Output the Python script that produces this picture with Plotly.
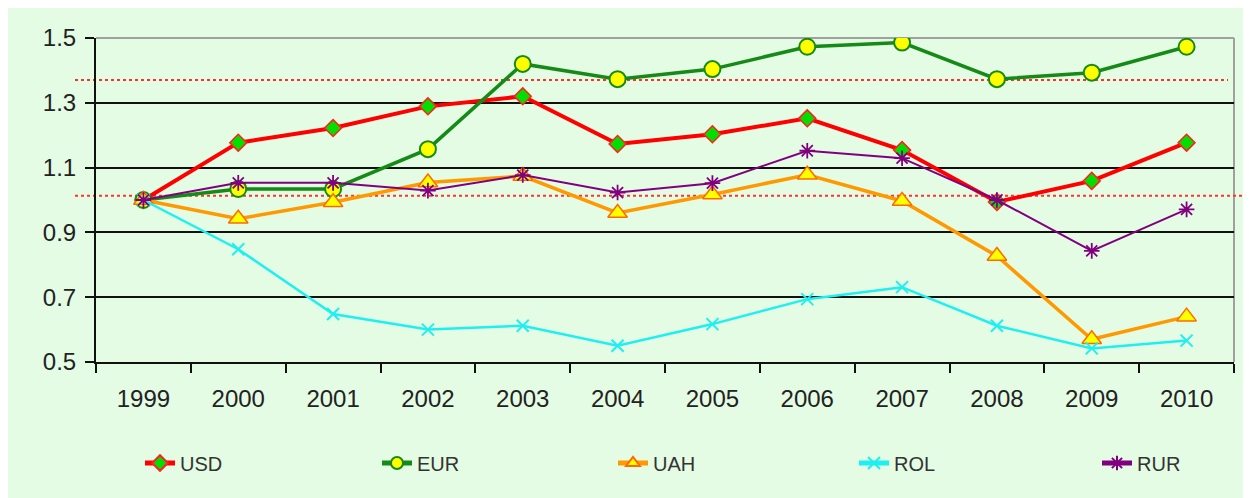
import plotly.graph_objects as go

years = ["1999", "2000", "2001", "2002", "2003", "2004", "2005", "2006", "2007", "2008", "2009", "2010"]
usd = [1.00, 1.177, 1.222, 1.289, 1.320, 1.173, 1.203, 1.252, 1.154, 0.994, 1.059, 1.177]
eur = [1.00, 1.034, 1.034, 1.157, 1.420, 1.373, 1.404, 1.473, 1.486, 1.373, 1.393, 1.473]
uah = [1.00, 0.942, 0.993, 1.054, 1.074, 0.960, 1.017, 1.078, 0.997, 0.827, 0.570, 0.640]
rol = [1.00, 0.848, 0.648, 0.600, 0.612, 0.550, 0.617, 0.694, 0.731, 0.612, 0.542, 0.566]
rur = [1.00, 1.053, 1.053, 1.029, 1.077, 1.023, 1.052, 1.152, 1.129, 1.000, 0.843, 0.971]
ref_levels = [1.37, 1.013]
y_ticks = [0.5, 0.7, 0.9, 1.1, 1.3, 1.5]
y_tick_text = ["0.5", "0.7", "0.9", "1.1", "1.3", "1.5"]

GREEN_BG = "#E4FBE4"

# page is offset by the body margin (8px); plot area sits at page x 96..1234, y 38..362
PL, PW, PT, PH = 96, 1138, 38, 324


def px_x(p):
    return (p - PL) / PW


def px_y(p):
    return 1 - (p - PT) / PH


fig = go.Figure()

fig.add_trace(go.Scatter(
    x=years, y=usd, name="USD", mode="lines+markers", legend="legend",
    line=dict(color="#FF0000", width=4),
    marker=dict(symbol="diamond", size=13, color="#00E000",
                line=dict(color="#FF2020", width=1.5)),
))
fig.add_trace(go.Scatter(
    x=years, y=eur, name="EUR", mode="lines+markers", legend="legend2",
    line=dict(color="#168A16", width=3.5),
    marker=dict(symbol="circle", size=16, color="#FFFF00",
                line=dict(color="#168A16", width=2)),
))
fig.add_trace(go.Scatter(
    x=years, y=uah, name="UAH", mode="lines+markers", legend="legend3",
    line=dict(color="#FF9900", width=3.5),
    marker=dict(symbol="triangle-up", size=17, color="#FFFF00",
                line=dict(color="#FF6A00", width=1.5)),
))
fig.add_trace(go.Scatter(
    x=years, y=rol, name="ROL", mode="lines+markers", legend="legend4",
    line=dict(color="#1EF0F0", width=2.5),
    marker=dict(symbol="x-thin-open", size=12, color="#1EF0F0",
                line=dict(color="#1EF0F0", width=2)),
))
fig.add_trace(go.Scatter(
    x=years, y=rur, name="RUR", mode="lines+markers", legend="legend5",
    line=dict(color="#800080", width=2),
    marker=dict(symbol="asterisk-open", size=13, color="#800080",
                line=dict(color="#800080", width=1.8)),
))

shapes = [
    dict(type="rect", xref="paper", yref="paper", x0=px_x(7), x1=px_x(1262),
         y0=px_y(510), y1=px_y(5), fillcolor=GREEN_BG, line=dict(width=0), layer="below"),
    dict(type="line", xref="paper", yref="paper", x0=0, x1=1, y0=1, y1=1,
         line=dict(color="#A0A0A0", width=2), layer="between"),
    dict(type="line", xref="paper", yref="paper", x0=1, x1=1, y0=0, y1=1,
         line=dict(color="#A0A0A0", width=2), layer="between"),
    dict(type="line", xref="paper", yref="y", x0=px_x(75), x1=px_x(1228),
         y0=ref_levels[0], y1=ref_levels[0], line=dict(color="#FF3030", width=2, dash="dot"), layer="between"),
    dict(type="line", xref="paper", yref="y", x0=px_x(75), x1=px_x(1262),
         y0=ref_levels[1], y1=ref_levels[1], line=dict(color="#FF3030", width=2, dash="dot"), layer="between"),
]

serif = dict(family="Liberation Serif, Times New Roman, serif", size=21, color="#000000")
annotations = [
    dict(text="gara 1).", xref="paper", yref="paper", x=px_x(-3), y=px_y(9),
         xanchor="left", yanchor="bottom", showarrow=False, font=serif),
    dict(text="these countries (Figure 1).", xref="paper", yref="paper", x=px_x(620),
         y=px_y(9), xanchor="left", yanchor="bottom", showarrow=False, font=serif),
]

leg_font = dict(size=20, color="#333333", family="Arial, Liberation Sans, sans-serif")
leg_origins = [140, 377, 613, 854, 1097]


def leg(px):
    return dict(orientation="h", x=px_x(px), xanchor="left", y=px_y(463), yanchor="middle",
                font=leg_font, bgcolor="rgba(0,0,0,0)", itemsizing="constant")


fig.update_layout(
    width=1243, height=490,
    margin=dict(l=PL - 8, r=1243 - (PL - 8) - PW, t=PT - 8, b=490 - (PT - 8) - PH, autoexpand=False),
    paper_bgcolor=GREEN_BG,
    plot_bgcolor=GREEN_BG,
    font=dict(family="Arial, Liberation Sans, sans-serif", color="#222222"),
    shapes=shapes,
    annotations=annotations,
    showlegend=True,
    legend=leg(leg_origins[0]),
    legend2=leg(leg_origins[1]),
    legend3=leg(leg_origins[2]),
    legend4=leg(leg_origins[3]),
    legend5=leg(leg_origins[4]),
    xaxis=dict(
        type="category", range=[-0.5, 11.5], showline=True, linecolor="#111111", linewidth=2,
        ticks="outside", tickson="boundaries", ticklen=9, tickwidth=2, tickcolor="#111111",
        showgrid=False, tickfont=dict(size=24, color="#222222"), fixedrange=True,
        ticklabelstandoff=14, automargin=False,
    ),
    yaxis=dict(
        range=[0.5, 1.5], tickvals=y_ticks, ticktext=y_tick_text,
        showline=True, linecolor="#111111", linewidth=2,
        ticks="outside", ticklen=9, tickwidth=2, tickcolor="#111111",
        showgrid=True, gridcolor="#111111", gridwidth=1.5, zeroline=False,
        tickfont=dict(size=24, color="#222222"), ticklabelstandoff=4,
        automargin=False,
    ),
)

fig.write_html("out.html")
